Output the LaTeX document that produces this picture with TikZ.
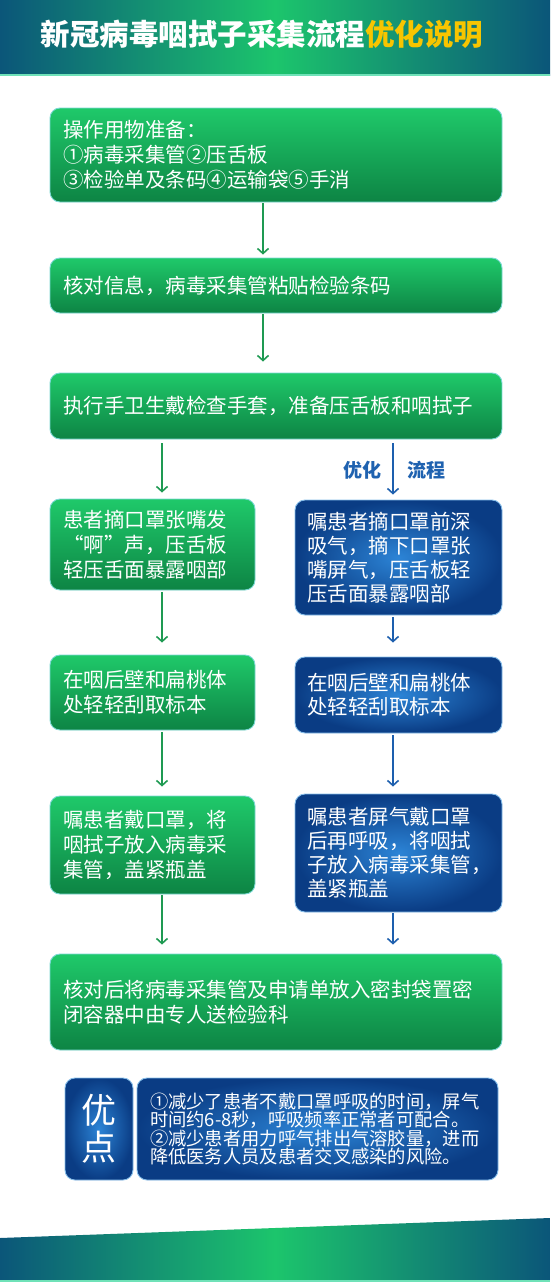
\documentclass[tikz,border=0pt]{standalone}
\usepackage{fontspec}
\setmainfont{Noto Sans CJK SC}
\newfontfamily\fwfont[CharacterWidth=Full]{Noto Sans CJK SC}
\usetikzlibrary{arrows.meta}
\definecolor{hdark}{HTML}{0B5679}
\definecolor{hgreen}{HTML}{1CC56C}
\definecolor{hline}{HTML}{6FE2B8}
\definecolor{gold}{HTML}{F7C500}
\definecolor{gtop}{HTML}{1FC96A}
\definecolor{gbot}{HTML}{0D8444}
\definecolor{gborder}{HTML}{7BD8D4}
\definecolor{binner}{HTML}{2C84D6}
\definecolor{bouter}{HTML}{0A3C84}
\definecolor{bborder}{HTML}{86BEEA}
\definecolor{garr}{HTML}{1E9A52}
\definecolor{barr}{HTML}{1D5FAE}
\definecolor{lblue}{HTML}{1F62B0}
\tikzset{
  gbox/.style={draw=gborder, line width=0.9pt, rounded corners=10pt, top color=gtop, bottom color=gbot,
    text=white, align=left, inner xsep=13pt, inner ysep=0pt, font=\fontsize{20.5pt}{25pt}\selectfont},
  bbox/.style={draw=bborder, line width=0.9pt, rounded corners=10pt, inner color=binner, outer color=bouter,
    text=white, align=left, inner xsep=12pt, inner ysep=0pt, font=\fontsize{20.5pt}{24pt}\selectfont},
  garrow/.style={draw=garr, line width=1.6pt, -{Straight Barb[length=5pt,width=11pt]}},
  barrow/.style={draw=barr, line width=1.6pt, -{Straight Barb[length=5pt,width=11pt]}},
  lab/.style={text=lblue, font=\bfseries\fontsize{19pt}{22pt}\selectfont, inner sep=0pt},
  titletext/.style={text=white, font=\bfseries\fontsize{29.5pt}{32pt}\selectfont, inner sep=0pt}
}
\begin{document}
\begin{tikzpicture}[x=1pt,y=-1pt]
\useasboundingbox (0,0) rectangle (550,1282);
\fill[white] (0,0) rectangle (550,1282);
% header
\shade[left color=hdark, right color=hdark, middle color=hgreen] (0,0) rectangle (550,75);
\draw[hline, line width=1.5pt] (0,75) -- (550,75);
\node[titletext] (title) at (262,34) {新冠病毒咽拭子采集流程\textcolor{gold}{优化说明}};
% footer
\shade[left color=hdark, right color=hdark, middle color=hgreen] (0,1238) -- (550,1218) -- (550,1282) -- (0,1282) -- cycle;
\draw[hline, line width=1.5pt] (0,1281) -- (550,1281);
% column coordinates
\coordinate (mx) at (263,0);
\coordinate (lx) at (162,0);
\coordinate (rx) at (393,0);
% boxes
\node[gbox, minimum width=452pt, minimum height=94pt, text width=426pt] (b1) at (276,155)
  {操作用物准备：\\①病毒采集管②压舌板\\③检验单及条码④运输袋⑤手消};
\node[gbox, minimum width=452pt, minimum height=55pt, text width=426pt] (b2) at (276,285.5)
  {核对信息，病毒采集管粘贴检验条码};
\node[gbox, minimum width=452pt, minimum height=66pt, text width=426pt] (b3) at (276,406)
  {执行手卫生戴检查手套，准备压舌板和咽拭子};
\node[gbox, minimum width=205pt, minimum height=91pt, text width=179pt] (L1) at (152.5,544.5)
  {患者摘口罩张嘴发\\{\fwfont “}啊{\fwfont ”}声，压舌板\\轻压舌面暴露咽部};
\node[bbox, minimum width=207pt, minimum height=115pt, text width=183pt] (R1) at (398.5,557.5)
  {嘱患者摘口罩前深\\吸气，摘下口罩张\\嘴屏气，压舌板轻\\压舌面暴露咽部};
\node[gbox, minimum width=205pt, minimum height=75pt, text width=179pt] (L2) at (152.5,692.5)
  {在咽后壁和扁桃体\\处轻轻刮取标本};
\node[bbox, minimum width=207pt, minimum height=76pt, text width=183pt] (R2) at (398.5,695)
  {在咽后壁和扁桃体\\处轻轻刮取标本};
\node[gbox, minimum width=205pt, minimum height=98pt, text width=179pt] (L3) at (152.5,845)
  {嘱患者戴口罩，将\\咽拭子放入病毒采\\集管，盖紧瓶盖};
\node[bbox, minimum width=207pt, minimum height=118pt, text width=183pt] (R3) at (398.5,853)
  {嘱患者屏气戴口罩\\后再呼吸，将咽拭\\子放入病毒采集管，\\盖紧瓶盖};
\node[gbox, minimum width=452pt, minimum height=96pt, text width=426pt] (b7) at (276,1002)
  {核对后将病毒采集管及申请单放入密封袋置密\\闭容器中由专人送检验科};
% advantages
\node[bbox, minimum width=68pt, minimum height=102pt, inner xsep=0pt, align=center,
  font=\fontsize{35pt}{40pt}\selectfont] (adv) at (99,1129) {\raisebox{-4pt}{\shortstack{优\\[2pt]点}}};
\node[bbox, minimum width=361pt, minimum height=102pt, text width=335pt, inner xsep=13pt,
  font=\fontsize{18.3pt}{18.6pt}\selectfont] (advtxt) at (317.5,1129)
  {①减少了患者不戴口罩呼吸的时间，屏气\\时间约6-8秒，呼吸频率正常者可配合。\\②减少患者用力呼气排出气溶胶量，进而\\降低医务人员及患者交叉感染的风险。};
% labels
\node[lab] (opt1) at (362,470) {优化};
\node[lab] (opt2) at (426,470) {流程};
% arrows
\draw[garrow, shorten <=1pt, shorten >=3pt] (b1.south -| mx) -- (b2.north -| mx);
\draw[garrow, shorten <=1pt, shorten >=11pt] (b2.south -| mx) -- (b3.north -| mx);
\draw[garrow, shorten <=4pt, shorten >=6pt] (b3.south -| lx) -- (L1.north -| lx);
\draw[barrow, shorten <=4pt, shorten >=5pt] (b3.south -| rx) -- (R1.north -| rx);
\draw[garrow, shorten <=2pt, shorten >=12pt] (L1.south -| lx) -- (L2.north -| lx);
\draw[barrow, shorten <=2pt, shorten >=14pt] (R1.south -| rx) -- (R2.north -| rx);
\draw[garrow, shorten <=2pt, shorten >=9pt] (L2.south -| lx) -- (L3.north -| lx);
\draw[barrow, shorten <=2pt, shorten >=7pt] (R2.south -| rx) -- (R3.north -| rx);
\draw[garrow, shorten <=1pt, shorten >=9pt] (L3.south -| lx) -- (b7.north -| lx);
\draw[barrow, shorten <=1pt, shorten >=9pt] (R3.south -| rx) -- (b7.north -| rx);
\end{tikzpicture}
\end{document}
